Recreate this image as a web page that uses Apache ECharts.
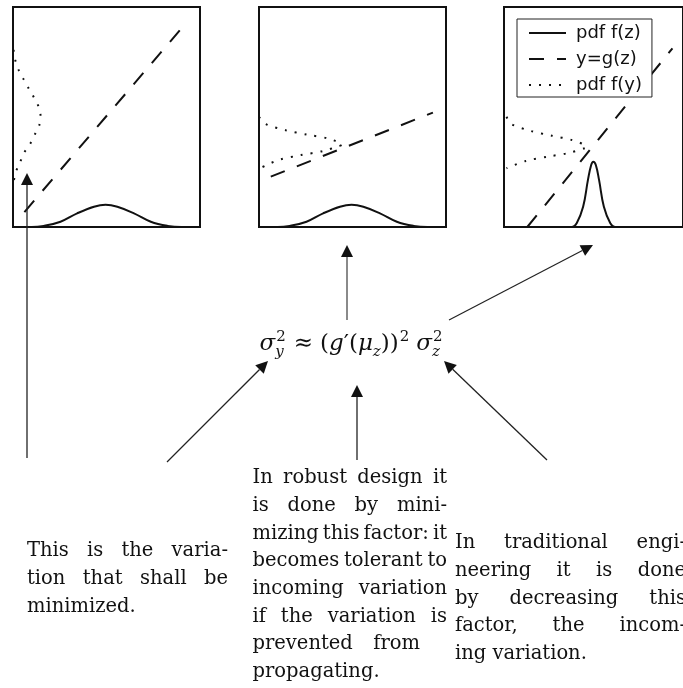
<!DOCTYPE html>
<html lang="en">
<head>
<meta charset="UTF-8">
<title>Variation propagation</title>
<script src="https://cdn.jsdelivr.net/npm/echarts@6/dist/echarts.min.js"></script>
<style>html,body{margin:0;padding:0;background:#fff}</style>
</head>
<body>
<div id="chart" style="width:683px;height:688px;"></div>
<script>
// input pdf f(z) - same wide bump in panel 1 and 2, narrow one in panel 3
var fzWide = [[0, 0], [0.1, 0], [0.164, 0.005], [0.254, 0.024], [0.343, 0.062], [0.433, 0.092], [0.495, 0.101],
  [0.558, 0.092], [0.647, 0.062], [0.737, 0.024], [0.827, 0.005], [0.9, 0], [1, 0]]
var fzNarrow = [[0, 0], [0.38, 0], [0.406, 0.017], [0.442, 0.092], [0.469, 0.214], [0.487, 0.282], [0.499, 0.297],
  [0.513, 0.282], [0.531, 0.214], [0.558, 0.092], [0.594, 0.017], [0.62, 0], [1, 0]]

// transfer function y = g(z)
var gz1 = [[0.061, 0.068], [0.898, 0.9]]
var gz2 = [[0.063, 0.229], [0.93, 0.52]]
var gz3 = [[0.13, 0.0], [0.941, 0.812]]

// output pdf f(y), drawn sideways along the left edge
var fy1 = [[0.003, 0.805], [0.012, 0.759], [0.03, 0.714], [0.057, 0.671], [0.084, 0.63], [0.111, 0.59], [0.137, 0.547],
  [0.147, 0.509], [0.141, 0.464], [0.12, 0.426], [0.093, 0.38], [0.061, 0.34], [0.039, 0.297], [0.018, 0.256], [0.003, 0.206]]
var fy2 = [[0.0, 0.501], [0.037, 0.468], [0.143, 0.44], [0.255, 0.42], [0.37, 0.402], [0.443, 0.373],
  [0.428, 0.368], [0.34, 0.345], [0.225, 0.327], [0.112, 0.307], [0.059, 0.289], [0.005, 0.267]]
var fy3 = [[0.014, 0.501], [0.041, 0.468], [0.152, 0.436], [0.267, 0.415], [0.38, 0.395], [0.46, 0.365],
  [0.451, 0.358], [0.353, 0.335], [0.246, 0.32], [0.121, 0.3], [0.014, 0.267]]

var legendNames = ['pdf f(z)', 'y=g(z)', 'pdf f(y)']

var leftText = ['This is the varia-', 'tion that shall be', 'minimized.']
var midText = ['In robust design it', 'is done by mini-', 'mizing this factor: it', 'becomes tolerant to',
  'incoming variation', 'if the variation is', 'prevented from', 'propagating.']
var rightText = ['In traditional engi-', 'neering it is done', 'by decreasing this', 'factor, the incom-', 'ing variation.']

var chart = echarts.init(document.getElementById('chart'))

var INK = '#111'
var BODY = 19.5
var SERIF = '"DejaVu Serif"'

var panels = [
  { left: 13, fz: fzWide, gz: gz1, fy: fy1 },
  { left: 259, fz: fzWide, gz: gz2, fy: fy2 },
  { left: 504, fz: fzNarrow, gz: gz3, fy: fy3 }
]

var grids = [], xAxes = [], yAxes = [], series = []
panels.forEach(function (p, i) {
  grids.push({ left: p.left, top: 7, width: 187, height: 220, show: true, borderColor: INK, borderWidth: 2, backgroundColor: 'transparent' })
  xAxes.push({ gridIndex: i, type: 'value', min: 0, max: 1, show: false })
  yAxes.push({ gridIndex: i, type: 'value', min: 0, max: 1, show: false })
  series.push({
    name: legendNames[0], type: 'line', xAxisIndex: i, yAxisIndex: i, data: p.fz, smooth: 0.4,
    symbol: 'none', lineStyle: { color: INK, width: 2 }, itemStyle: { color: INK }
  })
  series.push({
    name: legendNames[1], type: 'line', xAxisIndex: i, yAxisIndex: i, data: p.gz,
    symbol: 'none', lineStyle: { color: INK, width: 2, type: [15, 13] }, itemStyle: { color: INK }
  })
  series.push({
    name: legendNames[2], type: 'line', xAxisIndex: i, yAxisIndex: i, data: p.fy, smooth: 0.3,
    symbol: 'none', lineStyle: { color: INK, width: 2, type: [2, 8] }, itemStyle: { color: INK }
  })
})

var ctx = document.createElement('canvas').getContext('2d')
function measure(s, size, family, italic) {
  ctx.font = (italic ? 'italic ' : '') + size + 'px ' + family
  return ctx.measureText(s).width
}

function txt(s, x, base, size, italic) {
  return {
    type: 'text', silent: true, z: 10,
    style: {
      text: s, x: x, y: base - 0.3 * size, fontSize: size, fontFamily: SERIF,
      fontStyle: italic ? 'italic' : 'normal', fill: INK, verticalAlign: 'middle', align: 'left'
    }
  }
}

// justified paragraph, word by word; rights[i] = 0 means natural spacing
function paragraph(lines, left, right, base, lineH, rights) {
  var els = []
  var space = measure(' ', BODY, SERIF)
  lines.forEach(function (line, i) {
    var words = line.split(' ')
    var w = words.map(function (s) { return measure(s, BODY, SERIF) })
    var total = w.reduce(function (a, b) { return a + b }, 0)
    var r = rights && rights[i] !== undefined ? rights[i] : right
    var gap = (!r || words.length < 2) ? space : Math.max(2, (r - left - total) / (words.length - 1))
    var x = left
    words.forEach(function (s, j) {
      els.push(txt(s, x, base + i * lineH, BODY))
      x += w[j] + gap
    })
  })
  return els
}

// sigma_y^2 ~ (g'(mu_z))^2 sigma_z^2
function formula(cx, base) {
  var M = 23, S = 15
  var toks = [
    { t: 'σ', it: 1 }, { sup: '2', sub: 'y' }, { gap: 8 }, { t: '≈' }, { gap: 7 }, { t: '(' }, { t: 'g', it: 1 }, { t: '′' },
    { t: '(' }, { t: 'μ', it: 1 }, { sub: 'z' }, { t: ')' }, { t: ')' }, { sup: '2' }, { gap: 7 }, { t: 'σ', it: 1 }, { sup: '2', sub: 'z' }
  ]
  var items = [], x = 0
  toks.forEach(function (k) {
    if (k.gap) { x += k.gap; return }
    if (k.t) {
      items.push([k.t, x, 0, M, k.it])
      x += measure(k.t, M, SERIF, k.it)
      return
    }
    var adv = 0
    if (k.sup) { items.push([k.sup, x + 1, -9, S, 0]); adv = Math.max(adv, measure(k.sup, S, SERIF) + 1) }
    if (k.sub) { items.push([k.sub, x, 6, S, 1]); adv = Math.max(adv, measure(k.sub, S, SERIF, 1)) }
    x += adv
  })
  var x0 = cx - x / 2
  return items.map(function (it) { return txt(it[0], x0 + it[1], base + it[2], it[3], it[4]) })
}

// annotation arrows: tail x, tail y, tip x, tip y, line colour, line width
var arrows = [
  [27, 458, 27, 173, '#222', 1.3],
  [347, 320, 347, 245, '#8a8a8a', 2],
  [449, 320, 593, 245, '#222', 1.2],
  [167, 462, 268, 361, '#222', 1.3],
  [357, 460, 357, 385, '#222', 1.3],
  [547, 460, 444, 361, '#222', 1.3]
]
function arrow(a) {
  var dx = a[2] - a[0], dy = a[3] - a[1], len = Math.hypot(dx, dy), ux = dx / len, uy = dy / len
  var hl = 12, hw = 6
  var bx = a[2] - ux * hl, by = a[3] - uy * hl
  return [
    { type: 'line', silent: true, z: 10, shape: { x1: a[0], y1: a[1], x2: bx, y2: by }, style: { stroke: a[4], lineWidth: a[5] } },
    { type: 'polygon', silent: true, z: 10, shape: { points: [[a[2], a[3]], [bx - uy * hw, by + ux * hw], [bx + uy * hw, by - ux * hw]] }, style: { fill: INK } }
  ]
}

var graphics = []
arrows.forEach(function (a) { graphics = graphics.concat(arrow(a)) })
graphics = graphics.concat(formula(351, 351))
graphics = graphics.concat(paragraph(leftText, 27, 228, 557, 27.7, { 2: 0 }))
graphics = graphics.concat(paragraph(midText, 252.5, 447, 484, 27.7, { 6: 420, 7: 0 }))
graphics = graphics.concat(paragraph(rightText, 455, 686, 549, 27.7, { 4: 0 }))

chart.setOption({
  animation: false,
  backgroundColor: '#fff',
  grid: grids,
  xAxis: xAxes,
  yAxis: yAxes,
  legend: {
    data: legendNames, orient: 'vertical', left: 517, top: 19,
    itemWidth: 37, itemHeight: 14, itemGap: 8, padding: [5, 10, 3, 11],
    backgroundColor: '#fff', borderColor: '#222', borderWidth: 1, borderRadius: 0,
    selectedMode: false,
    itemStyle: { opacity: 0 },
    textStyle: { fontFamily: 'DejaVu Sans', fontSize: 18, color: INK, padding: [0, 0, 0, 5] }
  },
  series: series,
  graphic: graphics
})
</script>
</body>
</html>
